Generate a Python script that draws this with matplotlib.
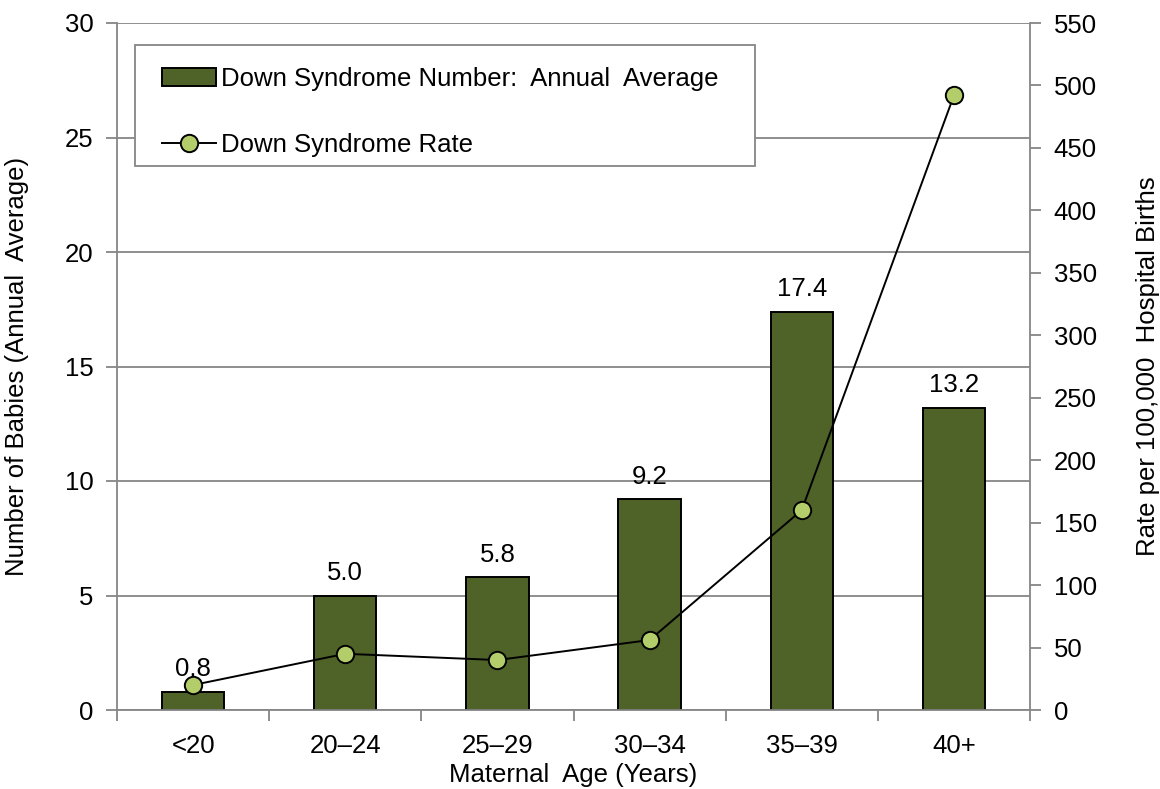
import matplotlib
matplotlib.use("Agg")
import matplotlib.pyplot as plt
from matplotlib.ticker import MultipleLocator, FixedLocator
from matplotlib.patches import Rectangle
import numpy as np

categories = ["<20", "20\u201324", "25\u201329", "30\u201334", "35\u201339", "40+"]
counts = [0.8, 5.0, 5.8, 9.2, 17.4, 13.2]
rates = [20, 45, 40, 56, 160, 492]
count_labels = ["0.8", "5.0", "5.8", "9.2", "17.4", "13.2"]

plt.rcParams['font.family'] = ['Liberation Sans', 'DejaVu Sans']
FS = 18.5
GRAY = "#868686"
BAR = "#4F6228"
DOT = "#B3CD6A"

fig = plt.figure(figsize=(11.6, 7.89), dpi=100)
ax = fig.add_axes([117/1160, 1-710/789, (1030-117)/1160, (710-23)/789])
x = np.arange(len(categories))

ax.set_axisbelow(True)
ax.yaxis.grid(True, color=GRAY, lw=1.3)
bars = ax.bar(x, counts, width=0.41, color=BAR, edgecolor="black", lw=1.4,
              label="Down Syndrome Number:  Annual  Average", zorder=2)
for xi, v, t in zip(x, counts, count_labels):
    ax.text(xi, v + 0.45, t, ha="center", va="bottom", fontsize=FS)

ax.set_xlim(-0.5, 5.5)
ax.set_ylim(0, 30)
ax.yaxis.set_major_locator(MultipleLocator(5))
ax.set_xticks(x)
ax.set_xticklabels(categories, fontsize=FS)
ax.xaxis.set_minor_locator(FixedLocator(np.arange(-0.5, 6.0, 1.0)))
ax.tick_params(axis="x", which="major", length=0, pad=17)
ax.tick_params(axis="x", which="minor", length=8, width=1.3, color=GRAY, direction="out")
ax.tick_params(axis="y", length=8, width=1.3, color=GRAY, direction="out", pad=9, labelsize=FS)
for s in ["top", "right"]:
    ax.spines[s].set_visible(False)
for s in ["left", "bottom"]:
    ax.spines[s].set_color(GRAY)
    ax.spines[s].set_linewidth(1.3)
ax.set_xlabel("Maternal  Age (Years)", fontsize=FS, va="center")
ax.xaxis.set_label_coords(0.5, (710-775)/687)
ax.set_ylabel("Number of Babies (Annual  Average)", fontsize=FS, va="center")
ax.yaxis.set_label_coords((17-117)/913, 0.5)

ax2 = ax.twinx()
line, = ax2.plot(x, rates, color="black", lw=1.4, marker="o", markersize=12.5,
                 markerfacecolor=DOT, markeredgecolor="black", markeredgewidth=1.4,
                 label="Down Syndrome Rate", zorder=3)
ax2.set_ylim(0, 550)
ax2.yaxis.set_major_locator(MultipleLocator(50))
ax2.tick_params(axis="y", length=8, width=1.3, color=GRAY, direction="out", pad=9, labelsize=FS)
for s in ["top", "left", "bottom"]:
    ax2.spines[s].set_visible(False)
ax2.spines["right"].set_color(GRAY)
ax2.spines["right"].set_linewidth(1.3)
ax2.set_ylabel("Rate per 100,000  Hospital Births", fontsize=FS, va="center", rotation=90)
ax2.yaxis.set_label_coords((1148-117)/913, 0.5)

# legend frame
rect = Rectangle(((135-117)/913, (710-166)/687), (755-135)/913, 121/687,
                 transform=ax2.transAxes, facecolor="white", edgecolor=GRAY,
                 lw=1.3, zorder=4)
ax2.add_patch(rect)
leg = ax2.legend([bars, line], [bars.get_label(), line.get_label()],
                 loc="upper left", bbox_to_anchor=((162-117)/913, (710-67)/687),
                 fontsize=FS, frameon=False, borderpad=0, borderaxespad=0,
                 labelspacing=1.62, handlelength=2.1, handletextpad=0.2)
leg.set_zorder(5)

fig.savefig("out.png", dpi=100)
